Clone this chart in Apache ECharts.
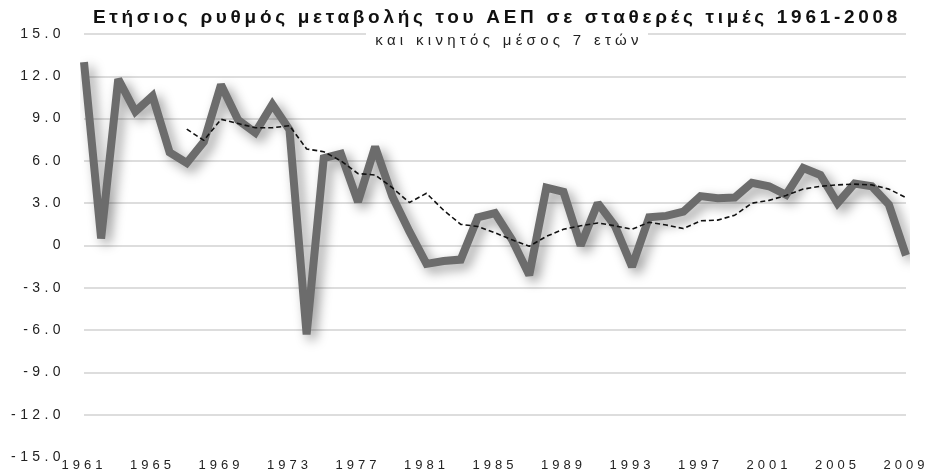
<!DOCTYPE html>
<html>
<head>
<meta charset="utf-8">
<script src="https://cdn.jsdelivr.net/npm/echarts@6/dist/echarts.min.js"></script>
<style>
html,body{margin:0;padding:0;background:#fff;}
#c{width:928px;height:472px;}
</style>
</head>
<body>
<div id="c"></div>
<script>
var titleText = 'Ετήσιος ρυθμός μεταβολής του ΑΕΠ σε σταθερές τιμές 1961-2008';
var subtitleText = 'και κινητός μέσος 7 ετών';

var years = [];
for (var y = 1961; y <= 2009; y++) years.push(String(y));

var growth = [
  13.0, 0.5, 11.8, 9.5, 10.6, 6.6, 5.85, 7.35, 11.4, 8.9,
  8.0, 10.0, 8.2, -6.3, 6.2, 6.5, 3.1, 7.0, 3.5, 1.0,
  -1.3, -1.1, -1.0, 2.0, 2.3, 0.4, -2.1, 4.1, 3.8, 0.0,
  3.0, 1.4, -1.5, 2.0, 2.1, 2.4, 3.5, 3.35, 3.4, 4.45,
  4.2, 3.6, 5.5, 5.0, 3.0, 4.4, 4.2, 2.9, -0.7
];

var movingAvg = [
  null, null, null, null, null, null, 8.25, 7.45, 8.95, 8.65,
  8.35, 8.35, 8.5, 6.85, 6.65, 6.0, 5.1, 5.0, 4.1, 3.05,
  3.7, 2.5, 1.5, 1.35, 0.9, 0.4, -0.05, 0.65, 1.15, 1.4,
  1.6, 1.4, 1.15, 1.65, 1.45, 1.2, 1.75, 1.8, 2.15, 3.0,
  3.2, 3.55, 4.0, 4.2, 4.3, 4.35, 4.3, 4.0, 3.4
];

// Wide letter spacing of the reference typography (canvas letterSpacing)
(function () {
  var proto = window.CanvasRenderingContext2D && CanvasRenderingContext2D.prototype;
  if (!proto || !('letterSpacing' in proto)) return;
  var orig = proto.fillText;
  proto.fillText = function (t, x, y, w) {
    var f = this.font || '';
    var s = '0px';
    if (/bold|700/.test(f)) s = '3.7px';
    else if (/15px/.test(f)) s = '4.3px';
    else if (/14px/.test(f)) s = '4.4px';
    else if (/13px/.test(f)) s = '4px';
    this.letterSpacing = s;
    return w === undefined ? orig.call(this, t, x, y) : orig.call(this, t, x, y, w);
  };
})();

var chart = echarts.init(document.getElementById('c'));
var gridColors = ['rgba(0,0,0,0)'];
for (var i = 0; i < 10; i++) gridColors.push('#d2d2d2');

var FONT = 'Liberation Sans, Arial, Helvetica, sans-serif';

chart.setOption({
  animation: false,
  backgroundColor: '#ffffff',
  grid: {left: 84, right: 22, top: 34, bottom: 14.5, containLabel: false},
  xAxis: {
    type: 'category',
    data: years,
    boundaryGap: false,
    axisLine: {show: false},
    axisTick: {show: false},
    splitLine: {show: false},
    axisLabel: {
      interval: 3,
      margin: 2,
      color: '#222',
      fontFamily: FONT,
      fontSize: 13
    }
  },
  yAxis: {
    type: 'value',
    min: -15,
    max: 15,
    interval: 3,
    axisLine: {show: false},
    axisTick: {show: false},
    splitLine: {lineStyle: {color: gridColors, width: 1.5}},
    axisLabel: {
      margin: 19,
      color: '#222',
      fontFamily: FONT,
      fontSize: 14,
      formatter: function (v) { return v === 0 ? '0' : v.toFixed(1); }
    }
  },
  graphic: [
    {type: 'rect', z: 100, shape: {x: 366, y: 28, width: 282, height: 22}, style: {fill: '#fff'}},
    {type: 'text', z: 101, x: 497, y: 18, style: {text: titleText, fontFamily: FONT, fontWeight: 'bold', fontSize: 19, fill: '#111', textAlign: 'center', textVerticalAlign: 'middle'}},
    {type: 'text', z: 101, x: 509, y: 41, style: {text: subtitleText, fontFamily: FONT, fontSize: 15, fill: '#222', textAlign: 'center', textVerticalAlign: 'middle'}}
  ],
  series: [
    {
      type: 'line',
      data: growth,
      symbol: 'none',
      z: 3,
      lineStyle: {
        color: '#6c6c6c',
        width: 8,
        join: 'miter',
        miterLimit: 2,
        shadowColor: 'rgba(0,0,0,0.4)',
        shadowBlur: 12,
        shadowOffsetX: 5,
        shadowOffsetY: 5
      }
    },
    {
      type: 'line',
      data: movingAvg,
      symbol: 'none',
      z: 4,
      lineStyle: {color: '#111', width: 1.6, type: [5, 3]}
    }
  ]
});
</script>
</body>
</html>
